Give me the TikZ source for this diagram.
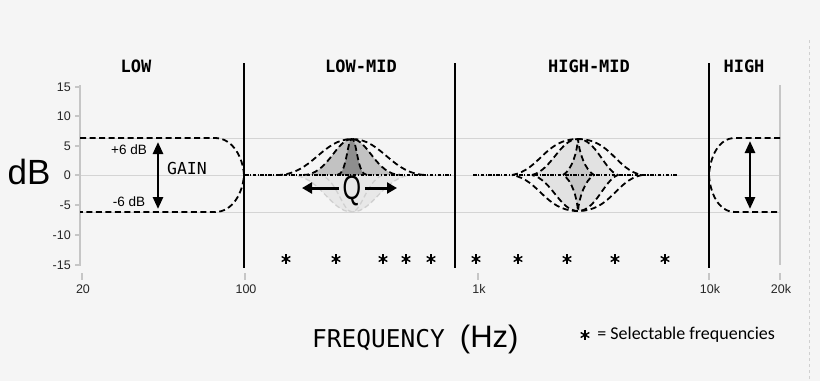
\documentclass[tikz,border=0pt]{standalone}
\usepackage{fontspec}
\setmainfont{Liberation Sans}
\setmonofont{DejaVu Sans Mono}
\newfontfamily\legendfont{Carlito}
\usetikzlibrary{arrows.meta, positioning, calc}

\definecolor{bgcol}{HTML}{F5F5F5}
\definecolor{gridcol}{HTML}{D4D4D4}
\definecolor{axiscol}{HTML}{C6C6C6}
\definecolor{midfill}{HTML}{C2C2C2}
\definecolor{darkfill}{HTML}{8E8E8E}
\definecolor{palefill}{HTML}{E8E8E8}
\definecolor{hmlight}{HTML}{E2E2E2}
\definecolor{hmdark}{HTML}{C8C8C8}
\definecolor{ghost}{HTML}{D0D0D0}

\tikzset{
  eqcurve/.style={line width=1.8pt, line join=round, dash pattern=on 6pt off 3.5pt},
  flatline/.style={line width=1.7pt, dash pattern=on 3.5pt off 1.5pt on 1.2pt off 1.5pt},
  ghostcurve/.style={ghost, line width=1.3pt, dash pattern=on 5pt off 3pt},
  gridline/.style={gridcol, line width=1pt},
  divider/.style={line width=2.4pt},
  ticklab/.style={font=\fontsize{12.5}{12.5}\selectfont, text=black!85},
  bandlab/.style={font=\ttfamily\bfseries\fontsize{17}{17}\selectfont},
  gainarrow/.style={{Triangle[length=12pt,width=10pt]}-{Triangle[length=12pt,width=10pt]}, line width=2.6pt},
  qarrow/.style={-{Triangle[length=10pt,width=11pt]}, line width=3pt},
  sel/.style={inner sep=0pt, minimum size=12pt, path picture={
      \foreach \a in {90,30,150}
        \draw[line width=1.4pt] ($(path picture bounding box.center)+(\a:5pt)$)
          -- ($(path picture bounding box.center)+(\a:-5pt)$);}}
}

\begin{document}
\begin{tikzpicture}[x=1pt, y=-1pt]
    \fill[bgcol] (0,0) rectangle (820,381);
    \useasboundingbox (0,0) rectangle (820,381);
    \draw[ghost, line width=0.8pt, dash pattern=on 3pt off 3pt] (809,40) -- (809,381);

    % Grid and axes
    \foreach \y in {138,175,212}
        \draw[gridline] (80,\y) -- (780,\y);
    \draw[axiscol, line width=1.2pt] (80,85) -- (80,266);
    \draw[axiscol, line width=1.2pt] (780,85) -- (780,265);
    \foreach \v/\y [count=\i] in {15/87,10/116,5/146,0/175,-5/205,-10/235,-15/265} {
        \draw[axiscol, line width=1.2pt] (75,\y) -- (80,\y);
        \node[ticklab, anchor=east, inner sep=0pt] (ytick\i) at (71,\y) {\v};
    }
    \foreach \f/\x [count=\i] in {20/82,100/245,1k/478,10k/709,20k/780} {
        \draw[axiscol, line width=1.5pt] (\x,273) -- (\x,280);
        \node[ticklab, inner sep=0pt] (xtick\i) at (\x+1,289) {\f};
    }

    % Low shelf
    \draw[eqcurve] (80,138) -- (215,138) .. controls (233,138) and (243,158) .. (244,175)
        .. controls (243,192) and (233,212) .. (215,212) -- (80,212);
    \coordinate (gaintop) at (158,142);
    \coordinate (gainbot) at (158,209);
    \draw[gainarrow] (gaintop) -- (gainbot);
    \node[font=\fontsize{13.5}{13.5}\selectfont] (plus6) at (129,150) {+6 dB};
    \node[font=\fontsize{13.5}{13.5}\selectfont] (minus6) at (129,202) {-6 dB};
    \node[font=\ttfamily\fontsize{16.5}{16.5}\selectfont] (gain) at (187,168) {GAIN};

    % Low-mid bell
    \fill[palefill] (290,175) .. controls (320,175) and (330,212) .. (352,212)
        .. controls (374,212) and (384,175) .. (414,175) -- cycle;
    \draw[ghostcurve] (290,175) .. controls (320,175) and (330,212) .. (352,212)
        .. controls (374,212) and (384,175) .. (414,175);
    \draw[ghostcurve] (318,175) .. controls (336,175) and (342,212) .. (352,212)
        .. controls (362,212) and (368,175) .. (386,175);
    \fill[midfill] (303,175) .. controls (328,175) and (336,139) .. (352,139)
        .. controls (368,139) and (376,175) .. (401,175) -- cycle;
    \fill[darkfill] (337,175) .. controls (347,175) and (347,139) .. (352,139)
        .. controls (357,139) and (357,175) .. (367,175) -- cycle;
    \draw[eqcurve] (277,175) .. controls (312,175) and (322,139) .. (352,139)
        .. controls (382,139) and (392,175) .. (427,175);
    \draw[eqcurve] (303,175) .. controls (328,175) and (336,139) .. (352,139)
        .. controls (368,139) and (376,175) .. (401,175);
    \draw[eqcurve] (337,175) .. controls (347,175) and (347,139) .. (352,139)
        .. controls (357,139) and (357,175) .. (367,175);
    \draw[flatline] (245,175) -- (452,175);
    \node[inner sep=0pt, font=\fontsize{34}{34}\selectfont] (q) at (352,191) {\scalebox{0.7}[1]{Q}};
    \coordinate (qleft) at (302,188);
    \coordinate (qright) at (397,188);
    \draw[qarrow] (q.west) ++(-4,-3) coordinate (qls) (qls) -- (qleft);
    \draw[qarrow] (q.east) ++(4,-3) coordinate (qrs) (qrs) -- (qright);

    % High-mid bell
    \fill[hmlight] (532,175) .. controls (552,170) and (560,139) .. (578,139)
        .. controls (596,139) and (604,170) .. (618,175)
        .. controls (604,180) and (596,211) .. (578,211)
        .. controls (560,211) and (552,180) .. (532,175) -- cycle;
    \fill[hmdark] (563,175) .. controls (572,170) and (577,152) .. (578,139)
        .. controls (579,152) and (585,170) .. (594,175)
        .. controls (585,180) and (579,198) .. (578,211)
        .. controls (577,198) and (572,180) .. (563,175) -- cycle;
    \draw[eqcurve] (512,175) .. controls (540,170) and (545,139) .. (578,139)
        .. controls (611,139) and (616,170) .. (642,175)
        .. controls (616,180) and (611,211) .. (578,211)
        .. controls (545,211) and (540,180) .. (512,175);
    \draw[eqcurve] (532,175) .. controls (552,170) and (560,139) .. (578,139)
        .. controls (596,139) and (604,170) .. (618,175)
        .. controls (604,180) and (596,211) .. (578,211)
        .. controls (560,211) and (552,180) .. (532,175);
    \draw[eqcurve] (563,175) .. controls (572,170) and (577,152) .. (578,139)
        .. controls (579,152) and (585,170) .. (594,175)
        .. controls (585,180) and (579,198) .. (578,211)
        .. controls (577,198) and (572,180) .. (563,175);
    \draw[flatline] (473,175) -- (677,175);

    % High shelf
    \draw[eqcurve] (780,138) -- (735,138) .. controls (718,138) and (710,158) .. (709,175)
        .. controls (710,192) and (718,212) .. (735,212) -- (780,212);
    \coordinate (hightop) at (750,141);
    \coordinate (highbot) at (750,209);
    \draw[gainarrow] (hightop) -- (highbot);

    % Band dividers and labels
    \foreach \x in {244,455,709}
        \draw[divider] (\x,63) -- (\x,268);
    \node[bandlab] (low) at (136,66) {LOW};
    \node[bandlab] (lowmid) at (361,66) {LOW-MID};
    \node[bandlab] (highmid) at (589,66) {HIGH-MID};
    \node[bandlab] (high) at (744,66) {HIGH};
    \node[font=\fontsize{35}{35}\selectfont] (db) at (29,172) {dB};

    % Selectable frequencies
    \foreach \x [count=\i] in {286,336,383,406,431,476,518,567,615,665}
        \node[sel] (sel\i) at (\x,259) {};

    % Footer
    \node[anchor=base west, inner sep=0pt] (freq) at (312,347)
        {\ttfamily\fontsize{24.5}{24.5}\selectfont FREQUENCY\hspace{15pt}\rmfamily\fontsize{31}{31}\selectfont(Hz)};
    \node[sel] (legsel) at (585,335) {};
    \node[inner sep=0pt, right=6pt of legsel, font=\legendfont\fontsize{18}{18}\selectfont] (legtxt) {= Selectable frequencies};
\end{tikzpicture}
\end{document}
